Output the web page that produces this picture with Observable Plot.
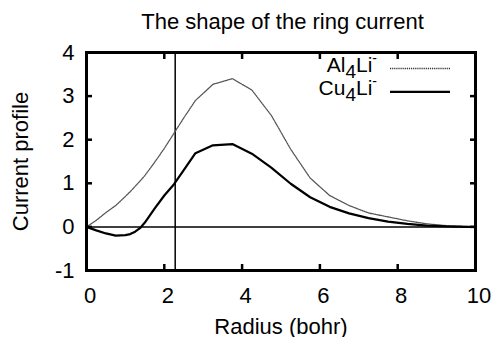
<!DOCTYPE html>
<html><head><meta charset="utf-8">
<script src="https://cdn.jsdelivr.net/npm/d3@7"></script>
<script src="https://cdn.jsdelivr.net/npm/@observablehq/plot@0.6"></script>
<style>body{margin:0;background:#fff}</style>
</head><body><div id="chart"></div>
<script>
const chartTitle = "The shape of the ring current";
const xLabel = "Radius (bohr)";
const yLabel = "Current profile";
const xTicks = [0, 2, 4, 6, 8, 10];
const yTicks = [-1, 0, 1, 2, 3, 4];
const markerRadius = [2.28];
const radius = [0, 0.25, 0.5, 0.75, 1, 1.125, 1.25, 1.375, 1.5, 1.75, 2, 2.25, 2.5, 2.8, 3.25, 3.75, 4.25, 4.75, 5.25, 5.75, 6.25, 6.75, 7.25, 7.75, 8.25, 8.75, 9.25, 9.75, 10];
const al4li = [0, 0.15, 0.33, 0.49, 0.70, 0.81, 0.93, 1.05, 1.18, 1.48, 1.80, 2.15, 2.50, 2.90, 3.27, 3.40, 3.14, 2.56, 1.78, 1.12, 0.72, 0.49, 0.32, 0.23, 0.14, 0.07, 0.03, 0.01, 0];
const cu4li = [0, -0.08, -0.15, -0.20, -0.19, -0.165, -0.11, -0.03, 0.10, 0.42, 0.72, 0.98, 1.30, 1.69, 1.87, 1.90, 1.68, 1.36, 0.99, 0.68, 0.46, 0.31, 0.20, 0.12, 0.07, 0.03, 0.01, 0, 0];
const legendLabels = [["Al", "4", "Li", "-"], ["Cu", "4", "Li", "-"]];

const data = radius.map((r, i) => ({r, al: al4li[i], cu: cu4li[i]}));
const inner = xTicks.slice(1, -1);
const innerY = yTicks.slice(1, -1);
const fmt = (d) => String(d);

const plot = Plot.plot({
  width: 493, height: 337,
  marginTop: 52, marginRight: 18, marginBottom: 67, marginLeft: 86,
  style: {fontFamily: "'Liberation Sans', Arial, sans-serif", fontSize: "22px", background: "#fff", color: "#000"},
  x: {domain: [0, 10], ticks: xTicks},
  y: {domain: [-1, 4], ticks: yTicks},
  marks: [
    Plot.ruleY([0], {stroke: "#000", strokeWidth: 1.5}),
    Plot.ruleX(markerRadius, {stroke: "#000", strokeWidth: 1.5}),
    Plot.line(data, {x: "r", y: "al", stroke: "#555", strokeWidth: 1.3, strokeDasharray: "1.2,1"}),
    Plot.line(data, {x: "r", y: "cu", stroke: "#000", strokeWidth: 2.2}),
    Plot.axisX(xTicks, {anchor: "bottom", tickSize: 0, tickPadding: 17, dx: 3.5, tickFormat: fmt, label: null}),
    Plot.axisX({anchor: "bottom", ticks: [], label: xLabel, labelAnchor: "center", labelArrow: "none", labelOffset: 63}),
    Plot.axisY(yTicks, {anchor: "left", tickSize: 0, tickPadding: 12, tickFormat: fmt, label: yLabel, labelAnchor: "center", labelArrow: "none", labelOffset: 74}),
    Plot.axisX(inner, {anchor: "bottom", tickSize: 6, dy: -6, tickFormat: () => "", label: null, strokeWidth: 2.5}),
    Plot.axisX(inner, {anchor: "top", tickSize: 6, dy: 6, tickFormat: () => "", label: null, strokeWidth: 2.5}),
    Plot.axisY(innerY, {anchor: "left", tickSize: 6, dx: 6, tickFormat: () => "", label: null, strokeWidth: 2.5}),
    Plot.axisY(innerY, {anchor: "right", tickSize: 6, dx: -6, tickFormat: () => "", label: null, strokeWidth: 2.5}),
    Plot.frame({stroke: "#000", strokeWidth: 3}),
    Plot.text([chartTitle], {frameAnchor: "top", lineAnchor: "bottom", dy: -24, dx: 1.5, fontSize: 22, fill: "#000"})
  ]
});
document.getElementById("chart").appendChild(plot);

// legend
const svg = d3.select(plot);
const lg = svg.append("g").attr("font-family", "'Liberation Sans', Arial, sans-serif").attr("font-size", 21);
const samples = [{stroke: "#333", width: 1.6, dash: "1.2,0.9"}, {stroke: "#000", width: 2.2, dash: null}];
legendLabels.forEach((parts, i) => {
  const yb = 68.5 + i * 23.3;
  const t = lg.append("text").attr("x", 377).attr("y", yb + 3).attr("text-anchor", "end").attr("fill", "#000");
  t.append("tspan").text(parts[0]);
  t.append("tspan").attr("dy", 6).attr("font-size", 19).text(parts[1]);
  t.append("tspan").attr("dy", -6).text(parts[2]);
  t.append("tspan").attr("dy", -9).attr("font-size", 14).text(parts[3]);
  lg.append("line").attr("x1", 390).attr("x2", 450).attr("y1", yb).attr("y2", yb)
    .attr("stroke", samples[i].stroke).attr("stroke-width", samples[i].width)
    .attr("stroke-dasharray", samples[i].dash);
});
</script>
</body></html>
